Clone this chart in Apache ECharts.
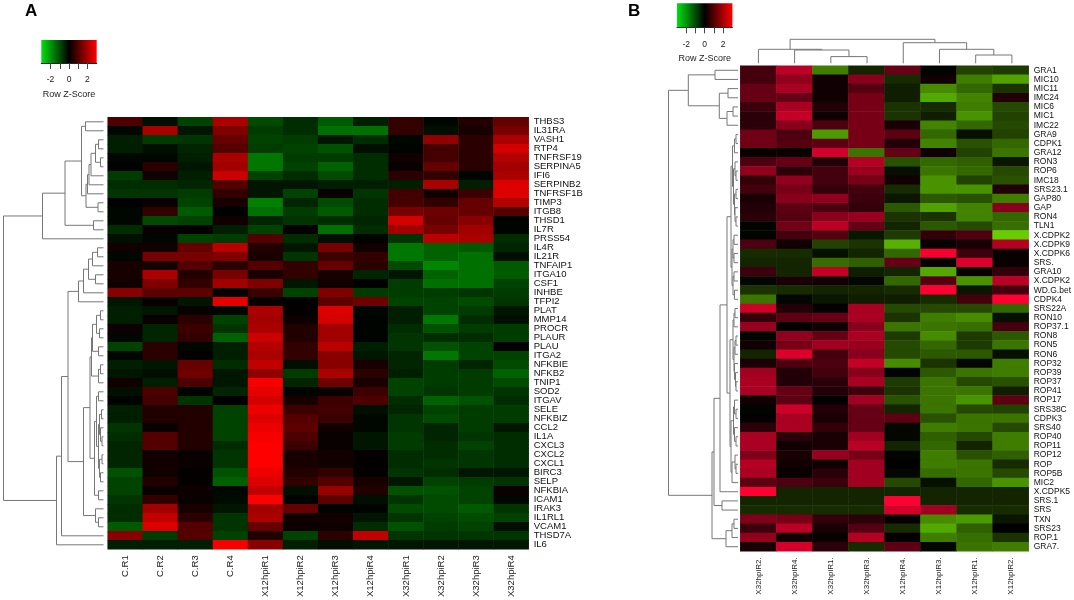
<!DOCTYPE html>
<html lang="en">
<head>
    <meta charset="UTF-8">
    <title>Row Z-Score heatmaps</title>
    <script src="https://cdn.jsdelivr.net/npm/echarts@6/dist/echarts.min.js"></script>
    <style>
        html, body, #chart {
            width: 1074px;
            height: 600px;
            padding: 0;
            margin: 0;
            background: #fff;
        }
    </style>
</head>
<body>
<div id="chart"></div>
<script>
    // panel A
    var colsA = ["C.R1", "C.R2", "C.R3", "C.R4", "X12hpiR1", "X12hpiR2", "X12hpiR3", "X12hpiR4", "X32hpiR1", "X32hpiR2", "X32hpiR3", "X32hpiR4"];
    var rowsA = ["THBS3", "IL31RA", "VASH1", "RTP4", "TNFRSF19", "SERPINA5", "IFI6", "SERPINB2", "TNFRSF1B", "TIMP3", "ITGB8", "THSD1", "IL7R", "PRSS54", "IL4R", "IL21R", "TNFAIP1", "ITGA10", "CSF1", "INHBE", "TFPI2", "PLAT", "MMP14", "PROCR", "PLAUR", "PLAU", "ITGA2", "NFKBIE", "NFKB2", "TNIP1", "SOD2", "ITGAV", "SELE", "NFKBIZ", "CCL2", "IL1A", "CXCL3", "CXCL2", "CXCL1", "BIRC3", "SELP", "NFKBIA", "ICAM1", "IRAK3", "IL1RL1", "VCAM1", "THSD7A", "IL6"];
    var valuesA = [
        [0.9, -0.2, -0.9, 2.0, -1.0, -0.6, -1.2, -0.4, 0.6, -0.1, 0.4, 1.2],
        [-0.1, 2.0, -0.3, 1.5, -0.8, -0.6, -1.5, -1.5, 0.6, -0.2, 0.3, 1.4],
        [-0.4, -0.8, -0.7, 1.2, -0.9, -0.8, -0.3, -0.6, -0.1, 1.7, 0.5, 2.0],
        [-0.4, -0.2, -0.5, 1.0, -0.8, -0.9, -1.1, -0.2, -0.05, 0.8, 0.5, 2.5],
        [-0.1, -0.1, -0.4, 2.0, -1.6, -0.8, -0.8, -0.6, 0.2, 0.8, 0.5, 2.1],
        [-0.05, 0.5, -0.3, 1.9, -1.6, -0.9, -1.3, -0.6, 0.1, 1.2, 0.5, 1.9],
        [-0.8, 0.2, -0.4, 2.4, -0.9, -0.6, -1.0, -0.6, 0.5, 0.6, -0.05, 2.0],
        [-0.6, -0.6, -0.5, 1.0, -0.3, -0.3, -0.4, -0.4, -0.4, 2.0, -0.4, 2.6],
        [-0.7, -0.7, -0.8, 0.6, -0.3, -0.9, 0.1, -0.7, 0.8, 0.2, 0.7, 2.6],
        [0, 0.1, -0.9, 0.3, -1.7, -0.5, -1.0, -0.6, 0.8, 0.6, 1.2, 2.1],
        [-0.1, 0.6, -1.2, 0, -1.5, -0.8, -1.2, -0.6, 1.4, 1.3, 1.2, 1.0],
        [-0.1, -1.0, -0.9, 0.2, -0.5, -0.7, -0.6, -0.5, 2.5, 1.2, 1.6, -0.05],
        [-0.6, 0.1, 0.05, -0.4, -0.9, 0.05, -1.5, -0.6, 1.9, 1.4, 1.9, -0.05],
        [-0.2, -0.1, -0.9, -0.8, 1.0, -0.6, -0.2, -0.05, -0.7, 2.2, 2.0, -0.6],
        [0.2, 0.2, 1.2, 2.2, 0.4, -0.3, 1.4, 0.2, -1.6, -1.3, -1.2, -0.5],
        [-0.1, 1.4, 1.4, 1.5, 0.3, -0.7, 0.7, 0.6, -1.6, -1.3, -1.5, -0.2],
        [0.3, 0.3, 1.0, 0.5, 1.0, 0.6, 1.2, 0.5, -1.0, -1.8, -1.5, -1.2],
        [0.3, 2.0, 0.4, 1.4, 0.3, 0.6, 0.3, -0.5, -0.3, -1.3, -1.5, -1.2],
        [0.2, 1.5, 0.6, 1.9, 1.5, -0.3, 0.2, 0, -0.8, -1.5, -1.5, -0.9],
        [1.6, 1.1, 1.1, 0.1, 0.7, -0.9, 1.5, -0.8, -0.8, -0.8, -0.7, -0.8],
        [-0.3, 0.1, -0.3, 2.7, 0.1, 0, 1.1, 1.3, -0.9, -0.9, -1.0, -0.7],
        [-0.4, -0.3, 0.1, -0.1, 2.0, 0.05, 2.6, -0.1, -0.4, -0.9, -0.8, -0.3],
        [-0.4, 0.1, 0.5, -0.9, 1.9, 0.15, 2.5, -0.05, -0.4, -1.6, -0.6, -0.2],
        [0.15, -0.5, 0.7, -0.7, 2.0, 0.4, 1.9, -0.05, -0.6, -1.1, -0.8, -0.8],
        [-0.1, -0.5, 0.6, -1.3, 2.4, 0.4, 1.9, -0.05, -0.7, -0.6, -0.6, -0.8],
        [-0.9, 0.5, -0.1, -0.4, 2.1, 0.6, 2.2, -0.4, -0.7, -1.1, -0.9, 0.05],
        [-0.1, 0.5, 0.05, -0.4, 2.0, 0.6, 1.6, -0.3, -0.5, -1.6, -0.9, -0.9],
        [-0.4, -0.3, 1.2, -0.6, 2.3, -0.2, 1.6, 0.3, -0.5, -0.8, -0.5, -1.0],
        [-0.3, -0.2, 1.3, -0.3, 1.7, -0.8, 2.0, 0.5, -0.4, -0.8, -0.8, -1.3],
        [0.2, -0.4, 0.9, -0.3, 2.9, -0.5, 1.3, 0.3, -0.9, -0.8, -0.8, -1.0],
        [-0.2, 0.9, -0.05, -0.5, 2.7, -0.05, 0.1, 0.7, -0.9, -0.7, -0.8, -0.7],
        [-0.05, 0.8, -0.7, 0, 2.5, 0.3, 0.7, 0.9, -0.6, -1.3, -1.1, -0.6],
        [-0.4, 0.4, 0.4, -0.9, 2.8, 0.7, 0.8, -0.2, -0.5, -0.9, -0.8, -0.8],
        [-0.4, 0.4, 0.4, -0.9, 2.6, 1.0, 0.7, -0.1, -0.7, -1.0, -0.8, -0.8],
        [-0.7, 0.1, 0.4, -0.9, 2.8, 1.1, 0.2, -0.1, -0.7, -0.5, -0.8, -0.3],
        [-0.6, 1.0, 0.4, -0.9, 2.9, 0.9, 0.1, -0.3, -0.8, -0.5, -0.7, -0.6],
        [-0.5, 1.0, 0.4, -0.6, 3.0, 0.7, 0.1, -0.3, -0.8, -0.6, -0.9, -0.6],
        [-0.5, 0.2, 0.1, -0.7, 3.0, 0.3, 0.2, 0.05, -0.6, -0.6, -0.7, -0.6],
        [-0.5, 0.2, 0.1, -0.7, 3.0, 0.3, 0.2, 0.05, -0.6, -0.7, -0.7, -0.6],
        [-1.1, 0.2, 0.05, -1.1, 2.8, 0.4, 0.6, 0.05, -0.7, -0.6, -0.3, -0.3],
        [-0.9, 0.4, 0.05, -1.3, 2.6, 0.6, 1.0, 0.3, -0.3, -0.9, -0.8, -0.7],
        [-0.9, 0.1, 0.15, -0.1, 2.3, -0.2, 1.8, 0.4, -1.1, -1.1, -0.9, 0.15],
        [-0.7, 0.6, 0.1, -0.15, 3.0, -0.05, 1.1, -0.2, -0.7, -1.0, -0.9, -0.1],
        [-0.6, 1.9, 0.3, -0.3, 1.9, 1.2, -0.05, -0.05, -1.0, -1.0, -1.2, -0.7],
        [-0.6, 2.3, 0.5, -0.7, 2.0, 0.2, 0.2, -0.3, -0.7, -0.9, -1.0, -0.9],
        [-1.2, 2.6, 1.0, -0.7, 1.2, 0.15, 0.15, -0.6, -1.1, -0.8, -0.9, -0.2],
        [1.6, -0.8, 1.0, -0.9, 0.4, -0.9, 0.5, 2.3, -0.7, -0.7, -0.7, -0.7],
        [-0.4, -0.4, -0.4, 2.9, 1.6, -0.4, -0.2, -0.3, -0.3, -0.3, -0.3, -0.3]
    ];
    // dendrogram: leaf = row index, node = [height, upper, lower]
    var treeA = [100,
        [61, [38.5,
            [22, [18, 0, 1],
                [17.5, [16, [14.5, [12.5, [8, [5, 2, 3], [3, 4, 5]], 6], 7], 8], [5.5, 9, 10]]],
            [10, 11, 12]], 13],
        [47, [42, [35.5,
            [25, [20, [15, [11, [6, 14, 15], 16], [8, 17, 18]], 19], 20],
            [20,
                [13.5,
                    [12, [11, [7, [3, 21, 22], [4, 23, 24]], [5, 25, 26]], [5, [3, 27, 28], 29]],
                    [9, [7, [5, 30, 31],
                        [5, [4, [2, 32, 33], [3, 34, [1.5, 35, 36]]], [4, [1.5, 37, 38], [3, 39, 40]]]],
                        [5, 41, 42]]],
                [8, 43, [5, 44, 45]]]], 46], 47]];

    // panel B
    var colsB = ["X32hpiR2.", "X32hpiR4.", "X32hpiR1.", "X32hpiR3.", "X12hpiR4.", "X12hpiR3.", "X12hpiR1.", "X12hpiR2."];
    var rowsB = ["GRA1", "MIC10", "MIC11", "IMC24", "MIC6", "MIC1", "IMC22", "GRA9", "CDPK1", "GRA12", "RON3", "ROP6", "IMC18", "SRS23.1", "GAP80", "GAP", "RON4", "TLN1", "X.CDPK2", "X.CDPK9", "X.CDPK6", "SRS.", "GRA10", "X.CDPK2", "WD.G.bet", "CDPK4", "SRS22A", "RON10", "ROP37.1", "RON8", "RON5", "RON6", "ROP32", "ROP39", "ROP37", "ROP41", "ROP17", "SRS38C", "CDPK3", "SRS40", "ROP40", "ROP11", "ROP12", "ROP", "ROP5B", "MIC2", "X.CDPK5", "SRS.1", "SRS", "TXN", "SRS23", "ROP.1", "GRA7."];
    var valuesB = [
        [0.8, 2.2, -1.7, -0.5, 1.2, -0.05, -0.9, -0.8],
        [0.8, 1.7, 0.2, 1.6, -0.6, 0.2, -1.7, -2.2],
        [1.2, 2.0, 0.2, 1.0, -0.4, -1.9, -1.4, -0.7],
        [1.2, 1.2, 0.2, 1.4, -0.4, -2.3, -1.8, 0.4],
        [0.7, 2.0, 0.4, 1.4, -0.7, -0.6, -1.7, -1.0],
        [0.5, 2.3, 0.2, 1.4, -0.7, -0.4, -2.0, -0.9],
        [0.5, 1.6, 0.9, 1.4, 0.3, -1.8, -1.4, -1.0],
        [1.3, 0.9, -2.1, 1.4, 1.1, -1.4, -0.2, -0.9],
        [1.3, 1.0, 1.1, 1.4, 0.4, -1.8, -1.1, -1.4],
        [0.1, 0.1, 2.5, -1.6, 1.2, 0.2, -0.9, -1.6],
        [0.9, 1.2, 0.4, 2.1, -1.1, -1.4, -1.3, -0.3],
        [1.7, 0.5, 0.8, 1.8, -0.2, -1.6, -1.4, -1.0],
        [0.6, 1.7, 0.8, 1.4, 0.2, -2.0, -0.9, -1.1],
        [0.8, 1.4, 0.6, 0.8, -0.6, -2.0, -2.0, 0.4],
        [0.3, 1.6, 1.7, 0.7, -0.3, -1.2, -1.1, -1.7],
        [0.4, 1.1, 0.9, 0.6, -1.2, -2.2, -1.8, 1.6],
        [0.5, 1.0, 1.6, 1.8, -0.7, -0.7, -1.8, -1.4],
        [-0.05, 1.3, 2.2, 1.2, -0.5, -1.2, -1.0, -1.5],
        [-0.05, 0.8, 1.0, -0.3, -0.8, 0.6, 0.9, -2.8],
        [0.9, 0.2, -0.9, -0.7, -2.4, 0.1, 0.3, 2.1],
        [-0.6, -0.6, -0.2, -0.5, -1.4, 2.9, 0.7, 0.1],
        [-0.5, -0.5, -1.5, -1.3, 1.2, 0.1, 2.6, 0.1],
        [0.7, -0.5, 2.3, -0.4, -0.5, -2.3, 0.1, 0.6],
        [-0.1, 0.3, 0.2, -0.1, -1.4, 1.0, -2.0, 2.2],
        [-0.7, -0.6, -0.5, -0.5, -0.6, 3.0, -0.3, 0.8],
        [-1.6, -0.1, -0.3, -0.4, -0.4, -0.6, 0.8, 3.0],
        [2.4, 0.4, 0.05, 2.0, -1.0, -1.0, -1.0, -1.4],
        [0.6, 1.1, 1.2, 2.0, -0.7, -1.7, -1.9, -0.2],
        [1.8, 0.05, 0.2, 1.6, -1.6, -1.6, -1.5, 0.8],
        [-0.05, 1.7, 1.2, 2.0, -0.8, -1.9, -0.8, -1.2],
        [0.2, 1.4, 1.9, 1.8, -1.0, -1.4, -0.8, -1.6],
        [-0.5, 2.6, 0.8, 1.6, -1.0, -1.2, -1.2, -0.2],
        [0.3, 0.9, 0.9, 2.3, -1.9, -0.7, -0.1, -1.7],
        [1.9, 0.4, 0.8, 1.6, -0.05, -1.2, -1.6, -1.7],
        [2.0, 0.4, 0.5, 2.0, -0.8, -1.6, -1.0, -1.1],
        [2.0, 1.2, 0.4, 0.7, -0.7, -1.6, -1.6, -0.4],
        [0.2, 1.1, 0.05, 1.9, -1.1, -1.6, -2.0, 1.1],
        [-0.05, 2.4, 0.4, 1.2, -0.5, -1.6, -1.0, -0.9],
        [0.05, 2.0, 0.3, 1.2, 1.1, -1.1, -1.6, -1.6],
        [0.5, 2.0, 0.6, 1.2, -0.1, -1.7, -1.6, -1.0],
        [2.0, 0.5, 0.3, 1.9, -0.1, -1.3, -1.0, -1.7],
        [2.0, 0.2, 0.3, 2.2, -0.5, -1.4, -0.5, -1.7],
        [1.5, 0.3, 1.8, 1.4, -0.05, -1.7, -1.1, -1.3],
        [2.1, 0.2, 0.2, 1.9, 0, -1.7, -1.6, -0.6],
        [2.0, 0.1, 0.5, 1.9, -0.1, -1.5, -1.6, -1.0],
        [1.1, 0.9, 0.7, 1.9, -1.0, -0.2, -1.4, -2.0],
        [3.0, -0.5, -0.5, -0.5, -0.5, -0.5, -0.5, -0.5],
        [-0.5, -0.5, -0.5, -0.5, 3.0, -0.5, -0.5, -0.5],
        [-0.6, -0.6, -0.6, -0.6, 2.5, 1.9, -0.6, -0.6],
        [1.5, 1.4, 0.6, 0.5, 0.05, -1.9, -2.1, -0.3],
        [0.7, 2.2, 0.3, 1.0, -0.6, -2.3, -1.3, 0],
        [1.7, 0.2, 0.1, 2.1, 0.05, -1.7, -1.5, -0.7],
        [0.3, 2.5, 0.5, -0.6, 1.1, -0.1, -1.6, -1.7]
    ];
    var treeRowsB = [69.5,
        [49.7, [23, 0, 1], [18.7, [10, 2, 3], [11, [5, 4, 5], 6]]],
        [26,
            [24,
                [18,
                    [11,
                        [7,
                            [5.5, [3.5, [2, 7, 8], 9],
                                [4.5, [3, 10, [2, 11, 12]], [3.5, [2, 13, 14], [3, 15, [2, 16, 17]]]]],
                            [6, [5, [4, 18, 19], [4, 20, 21]], [5, [4, 22, 23], [3.5, 24, 25]]]],
                        [8,
                            [5, [4, [3, 26, 27], 28], [4, [3, [2, 29, 30], 31], [3.5, 32, [2.5, 33, [2, 34, 35]]]]],
                            [7, [4.5, [3.5, 36, [2, 37, 38]], [3.5, 39, [2, 40, 41]]], [6, [3, 42, [2, 43, 44]], 45]]]],
                    46],
                [16, 47, 48]],
            [12, [6, [4, 49, 50], 51], 52]]];
    var treeColsB = [24,
        [14, 0, [13.3, 1, [6.7, 2, 3]]],
        [20.6, 4, [14, 5, [8.3, 6, 7]]]];

    var legendTicks = [-2, -1, 0, 1, 2];
    var legendLabels = [-2, 0, 2];
    var legendRange = [-3, 3];

    var font = "Liberation Sans";

    // walks a nested tree, returns [height, pos] of the node and pushes one U per merge
    function collectMerges(node, out) {
        if (typeof node === "number") {
            return [0, node + 0.5];
        }
        var a = collectMerges(node[1], out);
        var b = collectMerges(node[2], out);
        out.push([a[0], a[1], node[0], b[1], b[0]]);
        return [node[0], (a[1] + b[1]) / 2];
    }

    function merges(tree) {
        var out = [];
        collectMerges(tree, out);
        return out;
    }

    function renderSideU(params, api) {
        var p = [
            api.coord([api.value(0), api.value(1)]),
            api.coord([api.value(2), api.value(1)]),
            api.coord([api.value(2), api.value(3)]),
            api.coord([api.value(4), api.value(3)])
        ];
        return {type: "polyline", shape: {points: p}, style: {fill: null, stroke: "#777", lineWidth: 1}};
    }

    function renderTopU(params, api) {
        var p = [
            api.coord([api.value(1), api.value(0)]),
            api.coord([api.value(1), api.value(2)]),
            api.coord([api.value(3), api.value(2)]),
            api.coord([api.value(3), api.value(4)])
        ];
        return {type: "polyline", shape: {points: p}, style: {fill: null, stroke: "#777", lineWidth: 1}};
    }

    function renderLegend(params, api) {
        var a = api.coord([legendRange[0], 0]);
        var b = api.coord([legendRange[1], 1]);
        return {
            type: "rect",
            shape: {x: a[0], y: b[1], width: b[0] - a[0], height: a[1] - b[1]},
            style: {
                fill: new echarts.graphic.LinearGradient(0, 0, 1, 0, [
                    {offset: 0, color: "#00E010"},
                    {offset: 0.5, color: "#000000"},
                    {offset: 1, color: "#FF0000"}
                ])
            }
        };
    }

    function cells(values) {
        var out = [];
        values.forEach(function (row, r) {
            row.forEach(function (v, c) {
                out.push([c, r, v]);
            });
        });
        return out;
    }

    function heatAxes(cols, rows, grid, size) {
        return {
            x: {
                type: "category", gridIndex: grid, data: cols,
                axisLine: {show: false}, axisTick: {show: false}, splitLine: {show: false},
                axisLabel: {interval: 0, rotate: 90, margin: 6, fontSize: size[0], color: "#222", fontFamily: font}
            },
            y: {
                type: "category", gridIndex: grid, data: rows, inverse: true, position: "right",
                axisLine: {show: false}, axisTick: {show: false}, splitLine: {show: false},
                axisLabel: {interval: 0, margin: 5, fontSize: size[1], color: "#111", fontFamily: font}
            }
        };
    }

    function legendXAxis(grid) {
        return {
            type: "value", gridIndex: grid, min: legendRange[0], max: legendRange[1], interval: 1,
            splitLine: {show: false},
            axisLine: {show: true, lineStyle: {color: "#222"}},
            axisTick: {
                length: 6, lineStyle: {color: "#444"},
                customValues: legendTicks
            },
            axisLabel: {
                margin: 12.5, fontSize: 8.5, color: "#222", fontFamily: font,
                customValues: legendLabels
            },
            name: "Row Z-Score", nameLocation: "middle", nameGap: 27,
            nameTextStyle: {fontSize: 9, color: "#222", fontFamily: font}
        };
    }

    function hiddenValue(grid, min, max, inverse) {
        return {type: "value", gridIndex: grid, min: min, max: max, inverse: !!inverse, show: false};
    }

    var axesA = heatAxes(colsA, rowsA, 0, [9.5, 9.5]);
    var axesB = heatAxes(colsB, rowsB, 3, [8, 8.5]);

    var chart = echarts.init(document.getElementById("chart"));
    chart.setOption({
        animation: false,
        backgroundColor: "#fff",
        title: [
            {text: "A", left: 20, top: -2, textStyle: {fontSize: 17, fontWeight: "bold", color: "#000", fontFamily: font}},
            {text: "B", left: 623, top: -2, textStyle: {fontSize: 17, fontWeight: "bold", color: "#000", fontFamily: font}}
        ],
        grid: [
            {left: 107.7, top: 117.3, width: 421, height: 432},
            {left: 3, top: 117.3, width: 100.5, height: 432},
            {left: 41.3, top: 40, width: 55.4, height: 23},
            {left: 740.3, top: 65.7, width: 289.7, height: 485.6},
            {left: 668, top: 65.7, width: 70, height: 485.6},
            {left: 740.3, top: 36, width: 289.7, height: 27.3},
            {left: 677, top: 3.3, width: 55.4, height: 24}
        ],
        xAxis: [
            axesA.x,
            hiddenValue(1, 0, 100.5, true),
            legendXAxis(2),
            axesB.x,
            hiddenValue(4, 0, 70, true),
            hiddenValue(5, 0, colsB.length),
            legendXAxis(6)
        ],
        yAxis: [
            axesA.y,
            hiddenValue(1, 0, rowsA.length, true),
            hiddenValue(2, 0, 1),
            axesB.y,
            hiddenValue(4, 0, rowsB.length, true),
            hiddenValue(5, 0, 27.3),
            hiddenValue(6, 0, 1)
        ],
        visualMap: [
            {
                show: false, type: "continuous", seriesIndex: 0, dimension: 2, min: -3, max: 3,
                inRange: {color: ["#00E000", "#000000", "#FF0000"]}
            },
            {
                show: false, type: "continuous", seriesIndex: 1, dimension: 2, min: -3, max: 3,
                inRange: {color: ["#6EDC00", "#000000", "#FF0032"]}
            }
        ],
        series: [
            {type: "heatmap", xAxisIndex: 0, yAxisIndex: 0, data: cells(valuesA), silent: true, progressive: 0},
            {type: "heatmap", xAxisIndex: 3, yAxisIndex: 3, data: cells(valuesB), silent: true, progressive: 0},
            {type: "custom", xAxisIndex: 1, yAxisIndex: 1, data: merges(treeA), renderItem: renderSideU, silent: true},
            {type: "custom", xAxisIndex: 4, yAxisIndex: 4, data: merges(treeRowsB), renderItem: renderSideU, silent: true},
            {type: "custom", xAxisIndex: 5, yAxisIndex: 5, data: merges(treeColsB), renderItem: renderTopU, silent: true},
            {type: "custom", xAxisIndex: 2, yAxisIndex: 2, data: [legendRange], renderItem: renderLegend, silent: true},
            {type: "custom", xAxisIndex: 6, yAxisIndex: 6, data: [legendRange], renderItem: renderLegend, silent: true}
        ]
    });
</script>
</body>
</html>
